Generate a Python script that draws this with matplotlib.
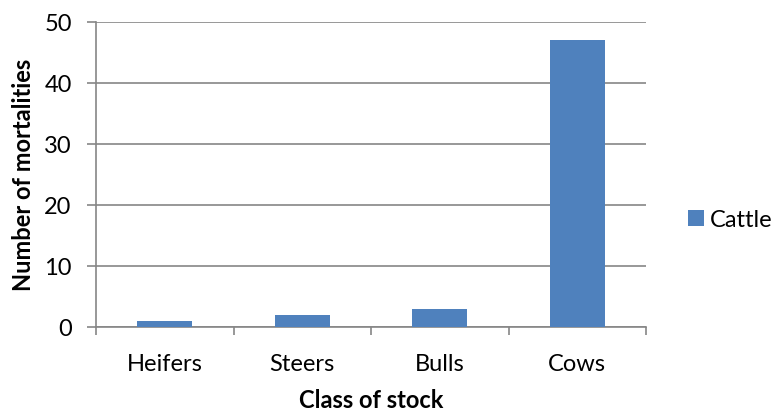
import numpy as np
import matplotlib.pyplot as plt

plt.rcParams['font.family'] = ['Lato', 'DejaVu Sans']

# Data
categories = ['Heifers', 'Steers', 'Bulls', 'Cows']
cattle = [1, 2, 3, 47]

grid_col = '#868686'
bar_col = '#4F81BD'
fs = 17

W, H = 774, 414
fig = plt.figure(figsize=(W / 100, H / 100), dpi=100)
# plot area in pixels: x 96..646, y 22.5..328
ax = fig.add_axes([96 / W, (H - 328) / H, 550 / W, 305.5 / H])

x = np.arange(len(categories))
ax.bar(x, cattle, width=0.4, color=bar_col, label='Cattle', zorder=3)

ax.set_xlim(-0.5, len(categories) - 0.5)
ax.set_ylim(0, 50)
ax.set_yticks(np.arange(0, 51, 10))
ax.yaxis.grid(True, color=grid_col, linewidth=1.2, zorder=0)

ax.set_xticks(x)
ax.set_xticklabels(categories)
ax.set_xticks(np.arange(-0.5, len(categories)), minor=True)
ax.tick_params(axis='x', which='major', length=0, pad=18.5, labelsize=fs)
ax.tick_params(axis='x', which='minor', length=6, width=1.2, color=grid_col)
ax.tick_params(axis='y', length=6.5, width=1.2, color=grid_col, pad=11, labelsize=fs)

for s in ['top', 'right']:
    ax.spines[s].set_visible(False)
for s in ['left', 'bottom']:
    ax.spines[s].set_color(grid_col)
    ax.spines[s].set_linewidth(1.2)

fig.text(371 / W, (H - 408) / H, 'Class of stock', fontsize=fs, fontweight='bold',
         ha='center', va='baseline')
fig.text(24 / W, (H - 175) / H, 'Number of mortalities', fontsize=fs, fontweight='bold',
         ha='center', va='center', rotation=90)

ax.legend(loc='center left', bbox_to_anchor=(688 / W, (H - 221) / H),
          bbox_transform=fig.transFigure, frameon=False, fontsize=fs,
          borderpad=0, borderaxespad=0, handlelength=0.66, handleheight=0.66,
          handletextpad=0.25)

fig.savefig('out.png', dpi=100)
